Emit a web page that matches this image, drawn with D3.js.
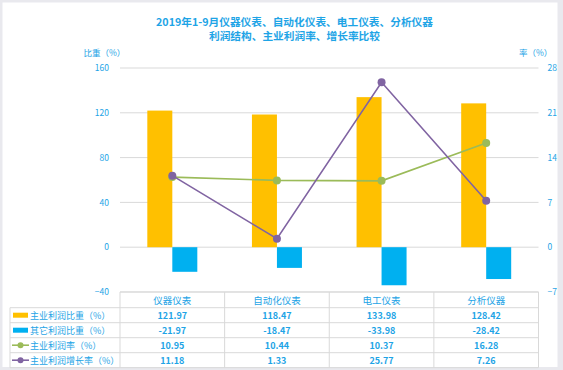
<!DOCTYPE html>
<html>
<head>
<meta charset="utf-8">
<script src="https://cdn.jsdelivr.net/npm/d3@7"></script>
<style>
  body { margin: 0; background: #e9e9ee; }
  svg { display: block; font-family: "Noto Sans CJK SC", "Noto Sans", sans-serif; }
</style>
</head>
<body>
<div id="chart-container"></div>
<script>
// data
const categories = ["仪器仪表", "自动化仪表", "电工仪表", "分析仪器"];
const mainShare = [121.97, 118.47, 133.98, 128.42];
const otherShare = [-21.97, -18.47, -33.98, -28.42];
const mainRate = [10.95, 10.44, 10.37, 16.28];
const mainGrowth = [11.18, 1.33, 25.77, 7.26];
const leftTicks = [-40, 0, 40, 80, 120, 160];
const rightTicks = [-7, 0, 7, 14, 21, 28];
const seriesNames = ["主业利润比重（%）", "其它利润比重（%）", "主业利润率（%）", "主业利润增长率（%）"];

const W = 563, H = 370;
const blue = "#1ea4e6";
const grid = "#d9d9d9";
const colors = ["#FFC000", "#00B0F0", "#9BBB59", "#8064A2"];

const svg = d3.select('#chart-container')
    .append('svg')
    .attr('width', W)
    .attr('height', H);

// white frame
svg.append('rect')
    .attr('x', 2.5).attr('y', 2.5)
    .attr('width', 555).attr('height', 364.5)
    .attr('fill', '#fff');

const plotLeft = 120, plotRight = 538.5, plotTop = 68, plotBottom = 292;

const x = d3.scaleBand().domain(categories).range([plotLeft, plotRight]).padding(0);
const yL = d3.scaleLinear().domain([-40, 160]).range([plotBottom, plotTop]);
const yR = d3.scaleLinear().domain([-7, 28]).range([plotBottom, plotTop]);
const barW = 25;
const cx = d => x(d) + x.bandwidth() / 2;

// title
svg.append('text')
    .attr('x', 294.5).attr('y', 25.5)
    .attr('text-anchor', 'middle')
    .attr('font-size', 10.7).attr('font-weight', 'bold')
    .attr('fill', blue)
    .text('2019年1-9月仪器仪表、自动化仪表、电工仪表、分析仪器');
svg.append('text')
    .attr('x', 294.5).attr('y', 40)
    .attr('text-anchor', 'middle')
    .attr('font-size', 10.7).attr('font-weight', 'bold')
    .attr('fill', blue)
    .text('利润结构、主业利润率、增长率比较');

// axis titles
svg.append('text').attr('x', 83.5).attr('y', 56)
    .attr('font-size', 8.5).attr('fill', blue).text('比重（%）');
svg.append('text').attr('x', 519).attr('y', 56)
    .attr('font-size', 8.5).attr('fill', blue).text('率（%）');

// grid lines
svg.append('g')
    .selectAll('line')
    .data(leftTicks)
    .enter()
    .append('line')
    .attr('x1', plotLeft).attr('x2', plotRight)
    .attr('y1', d => yL(d)).attr('y2', d => yL(d))
    .attr('stroke', grid).attr('stroke-width', 1);

// left axis
const axL = svg.append('g')
    .attr('transform', `translate(${plotLeft},0)`)
    .call(d3.axisLeft(yL).tickValues(leftTicks).tickSize(0).tickPadding(11));
axL.select('.domain').remove();
axL.selectAll('text').attr('fill', blue).attr('font-size', 8.5)
    .attr('font-family', '"Noto Sans CJK SC", sans-serif');

// right axis
const axR = svg.append('g')
    .attr('transform', `translate(${plotRight},0)`)
    .call(d3.axisRight(yR).tickValues(rightTicks).tickSize(0).tickPadding(9));
axR.select('.domain').remove();
axR.selectAll('text').attr('fill', blue).attr('font-size', 8.5)
    .attr('font-family', '"Noto Sans CJK SC", sans-serif');

// bars
svg.selectAll('.bar-main')
    .data(categories)
    .enter()
    .append('rect')
    .attr('x', d => cx(d) - barW)
    .attr('y', (d, i) => yL(mainShare[i]))
    .attr('width', barW)
    .attr('height', (d, i) => yL(0) - yL(mainShare[i]))
    .attr('fill', colors[0]);

svg.selectAll('.bar-other')
    .data(categories)
    .enter()
    .append('rect')
    .attr('x', d => cx(d))
    .attr('y', yL(0))
    .attr('width', barW)
    .attr('height', (d, i) => yL(otherShare[i]) - yL(0))
    .attr('fill', colors[1]);

// lines
function drawLine(vals, color) {
    const line = d3.line()
        .x((d, i) => cx(categories[i]))
        .y(d => yR(d));
    svg.append('path')
        .datum(vals)
        .attr('d', line)
        .attr('fill', 'none')
        .attr('stroke', color)
        .attr('stroke-width', 1.6);
    svg.append('g')
        .selectAll('circle')
        .data(vals)
        .enter()
        .append('circle')
        .attr('cx', (d, i) => cx(categories[i]))
        .attr('cy', d => yR(d))
        .attr('r', 4)
        .attr('fill', color);
}
drawLine(mainRate, colors[2]);
drawLine(mainGrowth, colors[3]);

// data table
const headTop = 292, rowH = 15, headH = 15.7;
const rowY = i => headTop + headH + i * rowH;
const tbl = svg.append('g');

// horizontal lines
tbl.append('line')
    .attr('x1', plotLeft).attr('x2', plotRight)
    .attr('y1', headTop).attr('y2', headTop)
    .attr('stroke', grid);
tbl.selectAll('.hline')
    .data(d3.range(5))
    .enter()
    .append('line')
    .attr('x1', 10).attr('x2', plotRight)
    .attr('y1', d => rowY(d)).attr('y2', d => rowY(d))
    .attr('stroke', grid);
// vertical lines
tbl.selectAll('.vline')
    .data(categories.concat(['end']))
    .enter()
    .append('line')
    .attr('x1', (d, i) => i < categories.length ? x(d) : plotRight)
    .attr('x2', (d, i) => i < categories.length ? x(d) : plotRight)
    .attr('y1', headTop).attr('y2', rowY(4))
    .attr('stroke', grid);
tbl.append('line')
    .attr('x1', 10).attr('x2', 10)
    .attr('y1', rowY(0)).attr('y2', rowY(4))
    .attr('stroke', grid);

// header
tbl.selectAll('.head')
    .data(categories)
    .enter()
    .append('text')
    .attr('x', d => cx(d))
    .attr('y', headTop + 11.5)
    .attr('text-anchor', 'middle')
    .attr('font-size', 9.5)
    .attr('fill', blue)
    .text(d => d);

// legend cells
seriesNames.forEach((name, r) => {
    const yc = rowY(r) + rowH / 2;
    if (r < 2) {
        tbl.append('rect')
            .attr('x', 13).attr('y', yc - 2.5)
            .attr('width', 15).attr('height', 5)
            .attr('fill', colors[r]);
    } else {
        tbl.append('line')
            .attr('x1', 12).attr('x2', 29)
            .attr('y1', yc).attr('y2', yc)
            .attr('stroke', colors[r]).attr('stroke-width', 1.6);
        tbl.append('circle')
            .attr('cx', 20.5).attr('cy', yc).attr('r', 3)
            .attr('fill', colors[r]);
    }
    tbl.append('text')
        .attr('x', 30).attr('y', yc + 3.3)
        .attr('font-size', 9)
        .attr('fill', blue)
        .text(name);
});

// values
const rows = [mainShare, otherShare, mainRate, mainGrowth];
rows.forEach((vals, r) => {
    tbl.selectAll('.v' + r)
        .data(vals)
        .enter()
        .append('text')
        .attr('x', (d, i) => cx(categories[i]))
        .attr('y', rowY(r) + rowH / 2 + 3.3)
        .attr('text-anchor', 'middle')
        .attr('font-size', 9)
        .attr('font-weight', 'bold')
        .attr('fill', blue)
        .text(d => d.toFixed(2));
});
</script>
</body>
</html>
